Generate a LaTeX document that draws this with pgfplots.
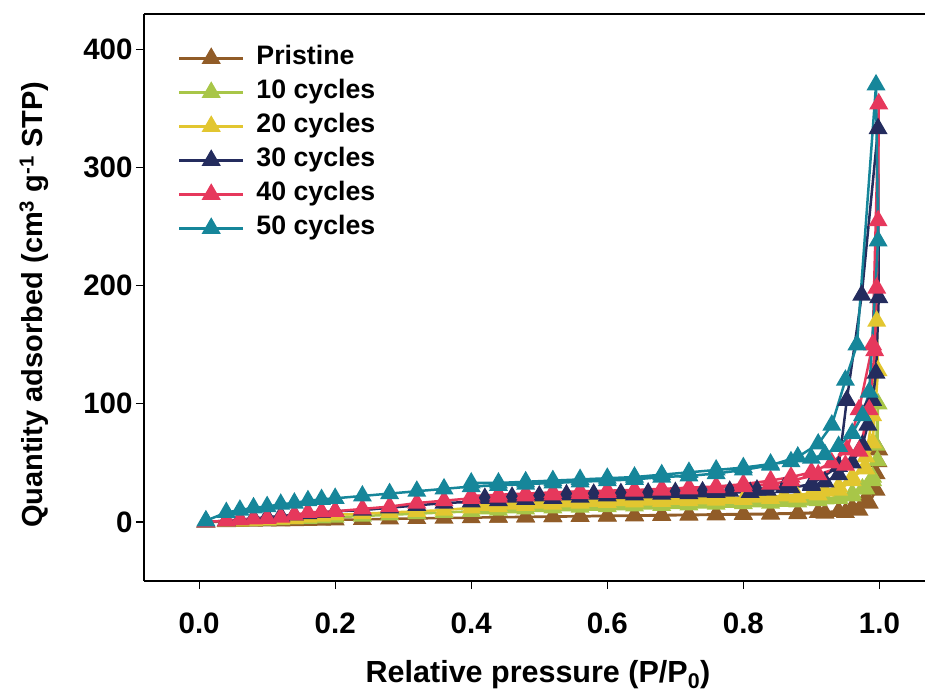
\documentclass[border=0pt]{standalone}
\usepackage{fontspec}
\setmainfont{Liberation Sans}
\usepackage{pgfplots}
\pgfplotsset{compat=1.18}
\definecolor{cBrown}{RGB}{145,92,40}
\definecolor{cGreen}{RGB}{168,198,72}
\definecolor{cYellow}{RGB}{226,198,48}
\definecolor{cNavy}{RGB}{36,44,94}
\definecolor{cPink}{RGB}{230,56,92}
\definecolor{cTeal}{RGB}{22,134,154}
\begin{document}
\begin{tikzpicture}
\useasboundingbox (-144bp,-114bp) rectangle (781bp,581bp);
\begin{axis}[
 scale only axis, width=781bp, height=567bp,
 xmin=-0.081, xmax=1.067, ymin=-50, ymax=430,
 axis lines=left, axis line style={-, line width=2.8bp},
 clip=false,
 tick align=outside, major tick length=8bp,
 major tick style={line width=1.2bp, black},
 xtick={0,0.2,0.4,0.6,0.8,1.0}, ytick={0,100,200,300,400},
 xticklabel style={yshift=-20bp, /pgf/number format/fixed, /pgf/number format/fixed zerofill, /pgf/number format/precision=1},
 /pgf/number format/assume math mode=true,
 tick label style={font=\fontsize{29.5bp}{35bp}\selectfont\bfseries},
 xlabel style={font=\fontsize{30.5bp}{36bp}\selectfont\bfseries, at={(axis description cs:0.5045,-0.165)}, anchor=center},
 ylabel style={font=\fontsize{29bp}{36bp}\selectfont\bfseries, at={(axis description cs:-0.1408,0.487)}, anchor=center},
 xlabel={Relative pressure (P/P\textsubscript{0})},
 ylabel={Quantity adsorbed (cm\textsuperscript{3} g\textsuperscript{-1} STP)},
 every axis plot/.append style={line width=2.5bp, mark=triangle*, mark size=8.5bp, mark options={solid}},
 legend style={draw=none, fill=none, at={(axis description cs:0.0435,0.944)}, anchor=north west,
   font=\fontsize{26.7bp}{32bp}\selectfont\bfseries, inner sep=0pt, outer sep=0pt, row sep=9bp,
   nodes={inner sep=0pt, text height=19bp, text depth=6bp},
   /tikz/every odd column/.append style={column sep=12bp}},
 legend cell align=left,
 legend image code/.code={\draw[mark repeat=2,mark phase=2] plot coordinates {(0bp,0bp)(32bp,0bp)(64bp,0bp)};},
]
% Pristine
\addplot[color=cBrown] coordinates {
(0.01,0)(0.04,0.2)(0.06,0.4)(0.08,0.6)(0.10,0.8)(0.12,1)(0.14,1.2)(0.16,1.4)(0.18,1.6)(0.20,1.8)
(0.24,2.2)(0.28,2.6)(0.32,3)(0.36,3.3)(0.40,3.6)(0.44,4)(0.48,4.3)(0.52,4.6)(0.56,4.9)(0.60,5.2)
(0.64,5.5)(0.68,5.8)(0.72,6.1)(0.76,6.4)(0.80,6.7)(0.84,7)(0.88,7.5)(0.91,8)(0.94,9)(0.96,12)
(0.98,20)(0.99,30)(0.995,41)(0.998,51)(0.999,61)
(0.995,27)(0.985,16)(0.97,10)(0.95,8)(0.92,7.5)(0.88,7)(0.84,6.6)(0.80,6.3)(0.76,6)(0.72,5.8)
(0.68,5.5)(0.64,5.2)(0.60,5)(0.56,4.7)(0.52,4.5)(0.48,4.2)(0.44,4)};
\addlegendentry{Pristine}
% 10 cycles
\addplot[color=cGreen] coordinates {
(0.01,0)(0.04,0.5)(0.06,1)(0.08,1.2)(0.10,1.5)(0.12,2)(0.14,2.5)(0.16,3)(0.18,3.5)(0.20,4)
(0.24,5)(0.28,6)(0.32,7)(0.36,8)(0.40,9)(0.44,10)(0.48,11)(0.52,12)(0.56,12.5)(0.60,13)
(0.64,13.5)(0.68,14)(0.72,14.5)(0.76,15)(0.80,15.5)(0.84,16)(0.88,17)(0.91,18)(0.94,20)(0.96,22)
(0.98,28)(0.99,38)(0.995,65)(0.998,100)
(0.997,52)(0.99,35)(0.975,28)(0.96,24)(0.94,21)(0.92,19.5)(0.90,18.5)(0.86,17.5)(0.82,17)(0.78,16.5)
(0.74,16)(0.70,15.5)(0.66,15)(0.62,14.5)(0.58,14)(0.54,13.5)(0.50,13)(0.46,12)(0.42,11)};
\addlegendentry{10 cycles}
% 20 cycles
\addplot[color=cYellow] coordinates {
(0.01,0)(0.04,0.5)(0.06,1)(0.08,1.5)(0.10,2)(0.12,2.5)(0.14,3)(0.16,4)(0.18,5)(0.20,6)
(0.24,7)(0.28,8)(0.32,9)(0.36,10)(0.40,12)(0.44,13)(0.48,14)(0.52,15)(0.56,16)(0.60,16.5)
(0.64,17)(0.68,17.5)(0.72,18)(0.76,18.5)(0.80,19)(0.84,20)(0.88,21)(0.91,23)(0.94,27)(0.96,35)
(0.98,55)(0.99,90)(0.996,170)
(0.998,128)(0.99,67)(0.98,45)(0.96,38)(0.94,30)(0.92,26)(0.90,24)(0.86,22)(0.82,21)(0.78,20)
(0.74,19.5)(0.70,19)(0.66,18.5)(0.62,18)(0.58,17.5)(0.54,17)(0.50,16)(0.46,15)(0.42,14)};
\addlegendentry{20 cycles}
% 30 cycles
\addplot[color=cNavy] coordinates {
(0.01,0)(0.04,1)(0.06,2)(0.08,3)(0.10,4)(0.12,5)(0.14,6)(0.16,7)(0.18,8)(0.20,9)
(0.24,10)(0.28,12)(0.32,14)(0.36,16)(0.40,17)(0.44,18)(0.48,19)(0.52,20)(0.56,21)(0.60,22)
(0.64,23)(0.68,23.5)(0.72,24)(0.76,25)(0.81,25)(0.835,27)(0.87,29)(0.90,32)(0.94,47)(0.952,103)
(0.974,192)(0.998,333)
(0.999,190)(0.995,126)(0.99,103)(0.983,82)(0.975,65)(0.96,50)(0.94,40)(0.92,34)(0.90,31)(0.86,29)
(0.82,27)(0.78,26)(0.74,25.5)(0.70,25)(0.66,24.5)(0.62,24)(0.58,23.5)(0.54,23)(0.50,22)(0.46,21)(0.42,20)};
\addlegendentry{30 cycles}
% 40 cycles
\addplot[color=cPink] coordinates {
(0.01,0)(0.04,1)(0.06,2)(0.08,2.5)(0.10,3)(0.12,4)(0.14,6)(0.16,8)(0.18,8.5)(0.20,9)
(0.24,11)(0.28,13)(0.32,16)(0.36,18)(0.40,20)(0.44,21)(0.48,22)(0.52,23)(0.56,24)(0.60,25)
(0.64,26)(0.68,27)(0.72,28)(0.76,29)(0.80,30)(0.84,32)(0.87,35)(0.91,40)(0.95,48)(0.97,60)
(0.985,95)(0.993,145)(0.996,198)(0.998,255)(0.999,354)
(0.99,150)(0.97,95)(0.952,61)(0.93,50)(0.90,42)(0.87,38)(0.84,35)(0.80,32)(0.76,30)(0.72,29)
(0.68,28)(0.64,27)(0.60,26.5)(0.56,26)(0.52,25)(0.48,24)(0.44,23)(0.40,22)};
\addlegendentry{40 cycles}
% 50 cycles
\addplot[color=cTeal] coordinates {
(0.01,1)(0.04,8)(0.06,10)(0.08,12)(0.10,13)(0.12,15)(0.14,16)(0.16,18)(0.18,19)(0.20,20)
(0.24,22)(0.28,24)(0.32,26)(0.36,28)(0.40,30)(0.44,31)(0.48,32)(0.52,33)(0.56,34)(0.60,35)
(0.64,36)(0.68,38)(0.72,39)(0.76,41)(0.80,44)(0.84,48)(0.88,55)(0.91,66)(0.93,82)(0.95,120)
(0.967,150)(0.995,370)
(0.998,238)(0.985,110)(0.975,90)(0.96,75)(0.94,64)(0.92,57)(0.90,54)(0.87,51)(0.84,49)(0.80,46)
(0.76,44)(0.72,42)(0.68,40)(0.64,38)(0.60,37)(0.56,36)(0.52,35)(0.48,34)(0.44,33)(0.40,33)};
\addlegendentry{50 cycles}
\draw[line width=2.8bp] (rel axis cs:0,1) -- (rel axis cs:1,1);
\end{axis}
\end{tikzpicture}
\end{document}
